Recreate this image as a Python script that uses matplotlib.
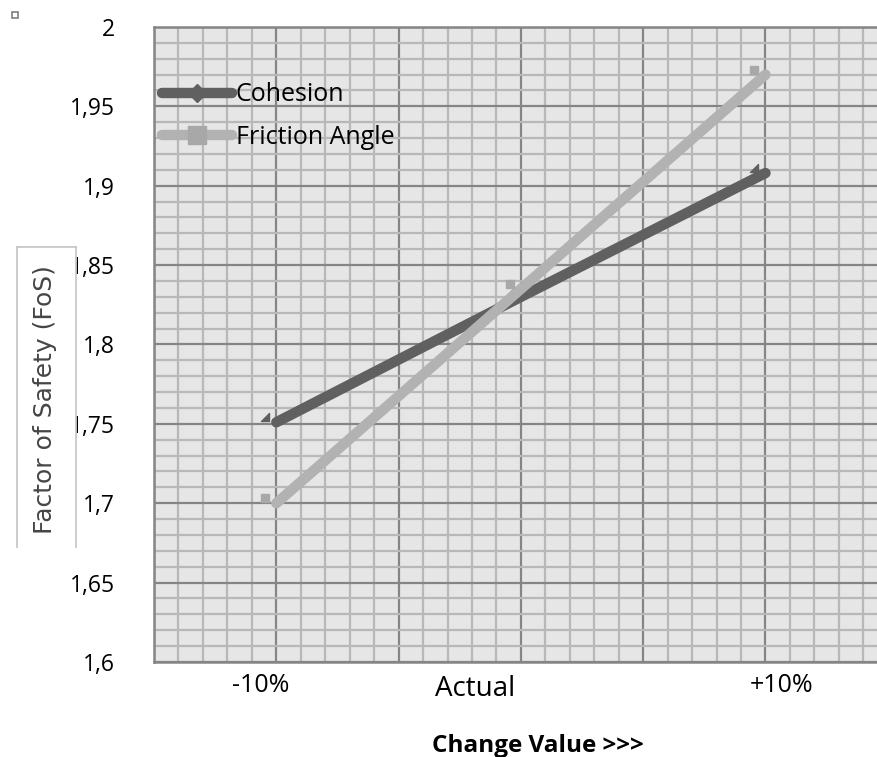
import matplotlib.pyplot as plt
import numpy as np
from matplotlib.lines import Line2D
from matplotlib.path import Path
from matplotlib.transforms import ScaledTranslation

categories = ['-10%', 'Actual', '+10%']
cohesion = [1.751, 1.830, 1.908]
friction = [1.700, 1.835, 1.970]

# where the category sits on the grid, and where its label was put
cat_x = [1, 3, 5]
label_x = [0.875, 2.625, 5.135]

DPI = 100
fig = plt.figure(figsize=(8.78, 7.57), dpi=DPI)
ax = fig.add_axes([154 / 878, 1 - 662 / 757, 1 - 154 / 878, (662 - 27) / 757])
ax.set_facecolor('#e6e6e6')

ax.set_xlim(0, (878 - 154) / 122.3)
ax.set_ylim(1.6, 2.0)

ax.set_xticks(np.arange(0, 6, 1))
ax.set_xticks(np.arange(0, 6, 0.2), minor=True)
ax.set_yticks(np.arange(1.6, 2.001, 0.01), minor=True)
ax.grid(which='minor', color='#b8b8b8', lw=1.6)
ax.grid(which='major', color='#858585', lw=1.6)
ax.set_axisbelow(True)
ax.tick_params(which='both', length=0)
ax.set_xticklabels([])
ax.set_yticks(np.arange(1.6, 2.001, 0.05))
ax.set_yticklabels(['1,6', '1,65', '1,7', '1,75', '1,8', '1,85', '1,9', '1,95', '2'],
                   fontsize=16.5, family='Open Sans')
ax.tick_params(axis='y', pad=28)

for s in ['left', 'bottom', 'top']:
    ax.spines[s].set_color('#858585')
    ax.spines[s].set_linewidth(1.8)
ax.spines['right'].set_visible(False)

dark = '#606060'
light = '#b2b2b2'

ax.plot(cat_x, cohesion, color=dark, lw=7.5, solid_capstyle='round', zorder=3)
ax.plot(cat_x, friction, color=light, lw=7.5, solid_capstyle='round', zorder=4)

# markers sit a little up-left of the line ends, as in the source picture
off = ax.transData + ScaledTranslation(-11 / DPI, 5 / DPI, fig.dpi_scale_trans)
tri = Path([(-1, -1), (1, -1), (1, 1), (-1, -1)], [1, 2, 2, 79])
ax.plot(cat_x, cohesion, ls='none', marker=tri, ms=6, color=dark, transform=off, zorder=2)
ax.plot(cat_x, friction, ls='none', marker='s', ms=6, color='#a8a8a8', transform=off, zorder=5)

for x, lab in zip(label_x, categories):
    fs = 20 if lab == 'Actual' else 18
    dy = 0.017 if lab == 'Actual' else 0.0145
    ax.text(x, 1.6 - dy, lab, ha='center', va='center', fontsize=fs,
            family='Open Sans', clip_on=False)

fig.text(538 / 878, 1 - 746 / 757, 'Change Value >>>', ha='center', va='center',
         fontsize=17.5, fontweight='bold', family='Open Sans')

handles = [
    Line2D([], [], color=dark, lw=7.5, marker='D', ms=9, solid_capstyle='round'),
    Line2D([], [], color=light, lw=7.5, marker='s', ms=13, mfc='#a8a8a8', mec='#a8a8a8',
           solid_capstyle='round'),
]
fig.legend(handles, ['Cohesion', 'Friction Angle'], loc='center left',
           bbox_to_anchor=(162 / 878, 1 - 116 / 757), frameon=False,
           prop={'family': 'Open Sans', 'size': 18}, handlelength=2.8,
           handletextpad=0.15, labelspacing=0.7, borderpad=0, borderaxespad=0)

# y label in its white box
fig.patches.append(plt.Rectangle((17 / 878, 1 - 547 / 757), 59 / 878, 300 / 757,
                                 transform=fig.transFigure, facecolor='white',
                                 edgecolor='none', zorder=5))
for xs, ys in [([17, 17], [547, 247]), ([17, 76], [247, 247]), ([76, 76], [247, 547])]:
    fig.add_artist(Line2D([x / 878 for x in xs], [1 - y / 757 for y in ys],
                          color='#c8c8c8', lw=1.3, zorder=6))
fig.text(45 / 878, 1 - 400 / 757, 'Factor of Safety (FoS)', rotation=90,
         ha='center', va='center', fontsize=18, color='#454545',
         family='DejaVu Sans', zorder=7)

fig.add_artist(Line2D([15 / 878], [1 - 15 / 757], marker='s', ms=5, mfc='white',
                      mec='#808080', mew=1.2, ls='none'))

fig.savefig('out.png', dpi=DPI)
